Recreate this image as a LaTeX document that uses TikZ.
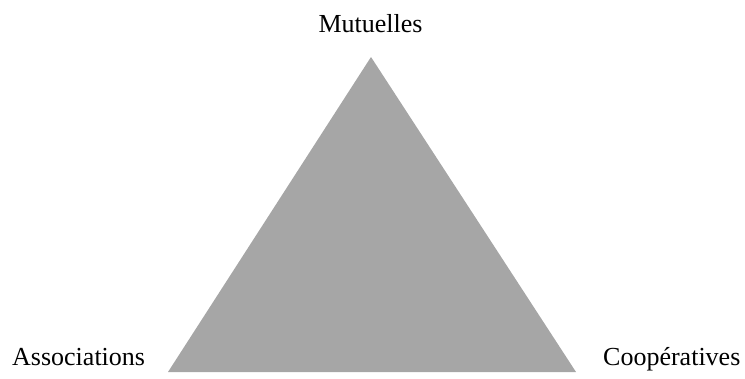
\documentclass[tikz,border=0pt]{standalone}
\usepackage{fontspec}
\setmainfont{Liberation Serif}
\definecolor{trigray}{HTML}{A6A6A6}
\begin{document}
\begin{tikzpicture}[x=1pt,y=-1pt,
  lbl/.style={inner sep=0pt, font=\fontsize{26}{30}\selectfont, text=black}]
\useasboundingbox (0,0) rectangle (745,378);
\coordinate (top) at (371,57);
\coordinate (bl) at (168,372);
\coordinate (br) at (576,372);
\fill[trigray] (top) -- (bl) -- (br) -- cycle;
\node[lbl, anchor=base] (mut) at (370.5,32) {Mutuelles};
\node[lbl, anchor=base west] (ass) at (12,365) {Associations};
\node[lbl, anchor=base west] (coop) at (603,365) {Coopératives};
\end{tikzpicture}
\end{document}
